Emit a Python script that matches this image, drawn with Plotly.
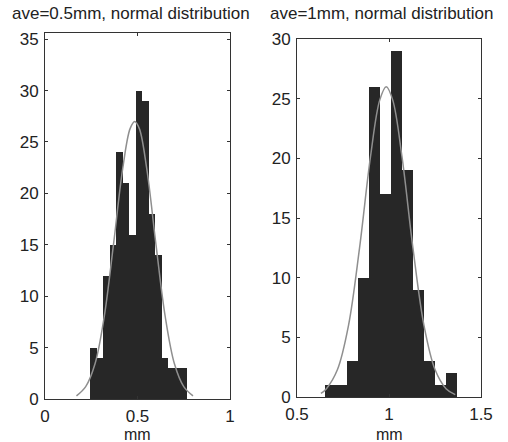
import plotly.graph_objects as go

# ---- data ----
left_centers = [0.2625, 0.2975, 0.3325, 0.3675, 0.4025, 0.4375, 0.4725, 0.5075,
                0.5425, 0.5775, 0.6125, 0.6475, 0.6825, 0.7175, 0.7525]
left_counts = [5, 4, 12, 15, 24, 21, 16, 30, 29, 18, 14, 4, 3, 3, 3]
left_bin_width = 0.035

left_fit_x = [0.17, 0.22, 0.27, 0.32, 0.37, 0.42, 0.46, 0.485, 0.51, 0.55, 0.60, 0.65, 0.70, 0.75, 0.80]
left_fit_y = [0.3, 1.2, 3.4, 8.0, 15.0, 22.4, 26.3, 27.0, 26.3, 22.4, 15.0, 8.0, 3.4, 1.2, 0.3]

right_centers = [0.68, 0.74, 0.80, 0.86, 0.92, 0.98, 1.04, 1.10, 1.16, 1.22, 1.28, 1.34]
right_counts = [1, 1, 3, 10, 26, 17, 29, 19, 9, 3, 1, 2]
right_bin_width = 0.06

right_fit_x = [0.63, 0.66, 0.72, 0.78, 0.84, 0.90, 0.95, 0.985, 1.02, 1.07, 1.13, 1.19, 1.25, 1.31, 1.36]
right_fit_y = [0.3, 0.7, 2.3, 6.0, 12.5, 20.2, 24.9, 26.0, 24.9, 20.2, 12.5, 6.0, 2.3, 0.7, 0.2]

left_title = "ave=0.5mm, normal distribution"
right_title = "ave=1mm, normal distribution"
x_label = "mm"

left_xticks = [0, 0.5, 1]
left_xticktext = ["0", "0.5", "1"]
left_yticks = [0, 5, 10, 15, 20, 25, 30, 35]
right_xticks = [0.5, 1, 1.5]
right_xticktext = ["0.5", "1", "1.5"]
right_yticks = [0, 5, 10, 15, 20, 25, 30]

BAR_COLOR = "#272727"
FIT_COLOR = "#8f8f8f"
AXIS_COLOR = "#333333"
TICK_FONT = dict(family="Liberation Sans, Arial, sans-serif", size=17, color="#222222")
LABEL_FONT = dict(family="Liberation Sans, Arial, sans-serif", size=16, color="#222222")
TITLE_FONT = dict(family="Liberation Sans, Arial, sans-serif", size=17, color="#222222")

W, H = 508, 442

fig = go.Figure()
fig.add_trace(go.Bar(x=left_centers, y=left_counts, width=left_bin_width,
                     marker=dict(color=BAR_COLOR, line=dict(width=0)),
                     xaxis="x", yaxis="y", showlegend=False))
fig.add_trace(go.Scatter(x=left_fit_x, y=left_fit_y, mode="lines",
                         line=dict(color=FIT_COLOR, width=1.5, shape="spline"),
                         xaxis="x", yaxis="y", showlegend=False))
fig.add_trace(go.Bar(x=right_centers, y=right_counts, width=right_bin_width,
                     marker=dict(color=BAR_COLOR, line=dict(width=0)),
                     xaxis="x2", yaxis="y2", showlegend=False))
fig.add_trace(go.Scatter(x=right_fit_x, y=right_fit_y, mode="lines",
                         line=dict(color=FIT_COLOR, width=1.5, shape="spline"),
                         xaxis="x2", yaxis="y2", showlegend=False))

axis_common = dict(showline=True, mirror="ticks", linecolor=AXIS_COLOR, linewidth=1,
                   ticks="inside", ticklen=3, tickcolor=AXIS_COLOR, tickwidth=1,
                   showgrid=False, zeroline=False, tickfont=TICK_FONT, automargin=False)
xaxis_common = dict(axis_common, ticklabelstandoff=2)
yaxis_common = dict(axis_common, ticklabelstandoff=2)

def px_x(p):
    return p / W

def px_y(p):
    return (H - p) / H

fig.update_layout(
    width=W, height=H,
    margin=dict(l=0, r=0, t=0, b=0, pad=0, autoexpand=False),
    paper_bgcolor="white", plot_bgcolor="white",
    bargap=0,
    hovermode=False,
    xaxis=dict(domain=[px_x(45), px_x(230)], range=[0, 1], tickvals=left_xticks,
               ticktext=left_xticktext, anchor="y", **xaxis_common),
    yaxis=dict(domain=[px_y(399), px_y(33)], range=[0, 35.6], tickvals=left_yticks,
               anchor="x", **yaxis_common),
    xaxis2=dict(domain=[px_x(297), px_x(481)], range=[0.5, 1.5], tickvals=right_xticks,
                ticktext=right_xticktext, anchor="y2", **xaxis_common),
    yaxis2=dict(domain=[px_y(397), px_y(39)], range=[0, 30], tickvals=right_yticks,
                anchor="x2", **yaxis_common),
    annotations=[
        dict(text=left_title, x=px_x(131), y=px_y(13), xref="paper", yref="paper",
             xanchor="center", yanchor="middle", showarrow=False, font=TITLE_FONT),
        dict(text=right_title, x=px_x(381), y=px_y(13), xref="paper", yref="paper",
             xanchor="center", yanchor="middle", showarrow=False, font=TITLE_FONT),
        dict(text=x_label, x=px_x(137), y=px_y(434), xref="paper", yref="paper",
             xanchor="center", yanchor="middle", showarrow=False, font=LABEL_FONT),
        dict(text=x_label, x=px_x(389), y=px_y(434), xref="paper", yref="paper",
             xanchor="center", yanchor="middle", showarrow=False, font=LABEL_FONT),
    ],
)

# remove the page's default 8px body margin so the figure sits at the window origin
fig.write_html("out.html", config={"displayModeBar": False, "staticPlot": True},
               post_script="document.body.style.margin='0';")
